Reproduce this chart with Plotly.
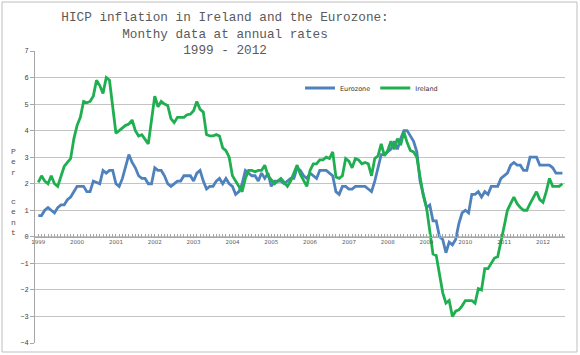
import plotly.graph_objects as go

years = [str(y) for y in range(1999, 2013)]

eurozone = [
    0.8, 0.8, 1.0, 1.1, 1.0, 0.9, 1.1, 1.2, 1.2, 1.4, 1.5, 1.7,   # 1999
    1.9, 1.9, 1.9, 1.7, 1.7, 2.1, 2.05, 2.0, 2.5, 2.4, 2.5, 2.5,  # 2000
    2.0, 1.9, 2.2, 2.7, 3.1, 2.8, 2.6, 2.3, 2.2, 2.2, 2.0, 2.0,   # 2001
    2.6, 2.5, 2.5, 2.3, 2.0, 1.9, 2.0, 2.1, 2.1, 2.3, 2.3, 2.3,   # 2002
    2.1, 2.4, 2.5, 2.1, 1.8, 1.9, 1.9, 2.1, 2.2, 2.0, 2.2, 2.0,   # 2003
    1.9, 1.6, 1.7, 2.0, 2.5, 2.4, 2.3, 2.3, 2.1, 2.4, 2.2, 2.4,   # 2004
    1.9, 2.1, 2.1, 2.1, 2.0, 2.1, 2.2, 2.2, 2.6, 2.5, 2.3, 2.2,   # 2005
    2.4, 2.3, 2.2, 2.5, 2.5, 2.5, 2.4, 2.3, 1.7, 1.6, 1.9, 1.9,   # 2006
    1.8, 1.8, 1.9, 1.9, 1.9, 1.9, 1.8, 1.7, 2.1, 2.6, 3.1, 3.1,   # 2007
    3.2, 3.3, 3.6, 3.3, 3.7, 4.0, 4.0, 3.8, 3.6, 3.2, 2.1, 1.6,   # 2008
    1.1, 1.2, 0.6, 0.6, 0.0, -0.1, -0.6, -0.2, -0.3, -0.1, 0.5, 0.9,  # 2009
    1.0, 0.9, 1.6, 1.6, 1.7, 1.5, 1.7, 1.6, 1.9, 1.9, 1.9, 2.2,   # 2010
    2.3, 2.4, 2.7, 2.8, 2.7, 2.7, 2.5, 2.5, 3.0, 3.0, 3.0, 2.7,   # 2011
    2.7, 2.7, 2.7, 2.6, 2.4, 2.4, 2.4,                            # 2012
]

ireland = [
    2.05, 2.3, 2.1, 2.0, 2.3, 2.0, 1.9, 2.3, 2.65, 2.8, 2.95, 3.7,    # 1999
    4.2, 4.5, 5.1, 5.05, 5.1, 5.3, 5.9, 5.7, 5.4, 6.0, 5.9, 4.9,      # 2000
    3.9, 4.0, 4.1, 4.2, 4.25, 4.4, 4.0, 3.8, 3.85, 3.65, 3.5, 4.4,    # 2001
    5.3, 4.9, 5.1, 5.0, 4.95, 4.45, 4.3, 4.5, 4.5, 4.5, 4.6, 4.62,    # 2002
    4.75, 5.1, 4.8, 4.7, 3.85, 3.8, 3.8, 3.85, 3.8, 3.35, 3.25, 3.0,  # 2003
    2.3, 2.1, 1.9, 1.7, 2.2, 2.5, 2.5, 2.45, 2.5, 2.5, 2.7, 2.3,      # 2004
    2.15, 2.0, 2.1, 2.2, 2.05, 1.9, 2.1, 2.4, 2.7, 2.35, 2.15, 1.9,   # 2005
    2.5, 2.75, 2.75, 2.9, 2.9, 3.0, 2.95, 3.2, 2.25, 2.2, 2.3, 2.95,  # 2006
    2.85, 2.6, 2.95, 2.9, 2.75, 2.8, 2.75, 2.3, 2.95, 3.05, 3.5, 3.05,  # 2007
    3.25, 3.6, 3.3, 3.7, 3.45, 3.95, 3.55, 3.25, 3.2, 3.0, 2.25, 1.55,  # 2008
    1.1, 0.2, -0.65, -0.7, -1.4, -2.1, -2.5, -2.4, -3.0, -2.8, -2.75, -2.6,  # 2009
    -2.4, -2.4, -2.4, -2.5, -1.95, -2.0, -1.2, -1.2, -1.0, -0.8, -0.75, -0.1,  # 2010
    0.4, 1.0, 1.25, 1.5, 1.25, 1.1, 1.0, 1.0, 1.25, 1.5, 1.7, 1.4,    # 2011
    1.3, 1.7, 2.2, 1.9, 1.9, 1.9, 2.0,                                # 2012
]

months = list(range(len(eurozone)))
year_ticks = [12 * i for i in range(len(years))]

fig = go.Figure()
fig.add_trace(go.Scatter(x=months, y=eurozone, mode="lines", name="Eurozone",
                         line=dict(color="#4F81BD", width=2.8)))
fig.add_trace(go.Scatter(x=months, y=ireland, mode="lines", name="Ireland",
                         line=dict(color="#1FAF50", width=2.8)))

fig.update_layout(
    width=580, height=355,
    margin=dict(l=35, r=15, t=51, b=12),
    paper_bgcolor="white", plot_bgcolor="white",
    title=dict(
        text="HICP inflation in Ireland and the Eurozone:<br>Monthy data at annual rates<br>1999 - 2012",
        x=0.388, xanchor="center", xref="container",
        yref="container", y=1 - 21 / 355, yanchor="bottom", pad=dict(b=0, t=0),
        font=dict(family="Liberation Mono", size=12.7, color="#5A5A5A"),
    ),
    showlegend=True,
    legend=dict(orientation="h", x=(300 - 35) / 530, xanchor="left", y=(343 - 88) / 292, yanchor="middle",
                bgcolor="rgba(0,0,0,0)", font=dict(family="DejaVu Sans", size=6.5, color="#333333"),
                itemwidth=30, tracegroupgap=0),
    xaxis=dict(
        range=[-1.02, 162.8], anchor="free", position=4 / 11, automargin=False,
        showgrid=False, zeroline=False, showline=True, linecolor="#A6A6A6", linewidth=1,
        tickmode="array", tickvals=year_ticks, ticktext=years,
        ticks="inside", ticklen=3, tickcolor="#A6A6A6",
        minor=dict(dtick=1, tick0=0, ticks="inside", ticklen=3, tickcolor="#A6A6A6", showgrid=False),
        tickfont=dict(family="DejaVu Sans", size=5.5, color="#595959"),
    ),
    yaxis=dict(
        range=[-4, 7], dtick=1, tick0=0, automargin=False,
        showgrid=True, gridcolor="#C4C4C4", gridwidth=1, zeroline=False,
        showline=True, linecolor="#A6A6A6", linewidth=1,
        ticks="outside", ticklen=4, tickcolor="#A6A6A6",
        tickfont=dict(family="Liberation Mono", size=7, color="#404040"),
    ),
    shapes=[dict(type="rect", xref="paper", yref="paper",
                 x0=(2 - 35) / 530, x1=(577 - 35) / 530,
                 y0=(343 - 352) / 292, y1=(343 - 2) / 292,
                 line=dict(color="#BFBFBF", width=1), fillcolor="rgba(0,0,0,0)")],
    annotations=[
        dict(text="P<br>e<br>r", xref="paper", yref="paper", x=(13 - 35) / 530, y=(343 - 162) / 292,
             showarrow=False, font=dict(family="Liberation Mono", size=8, color="#505050"),
             xanchor="center", yanchor="middle"),
        dict(text="c<br>e<br>n<br>t", xref="paper", yref="paper", x=(13 - 35) / 530, y=(343 - 217) / 292,
             showarrow=False, font=dict(family="Liberation Mono", size=8, color="#505050"),
             xanchor="center", yanchor="middle"),
    ],
)

fig.write_html("out.html", config={"displayModeBar": False},
               post_script="document.body.style.margin='0';document.body.style.overflow='hidden';")
